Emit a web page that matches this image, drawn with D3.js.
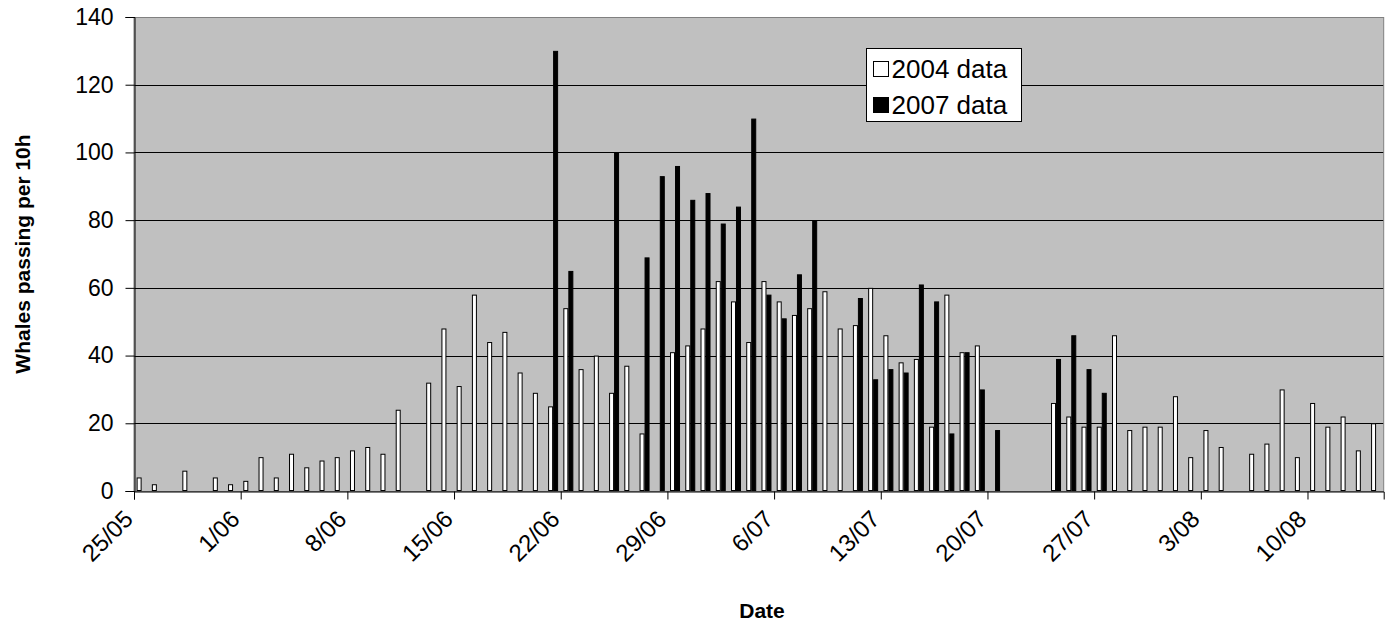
<!DOCTYPE html>
<html>
<head>
<meta charset="utf-8">
<script src="https://cdn.jsdelivr.net/npm/d3@7"></script>
<style>
  body { margin: 0; background: #fff; }
  text { font-family: "Liberation Sans", Arial, sans-serif; }
</style>
</head>
<body>
<div id="chart"></div>
<script>
const dates = [
  "25/05","26/05","27/05","28/05","29/05","30/05","31/05",
  "1/06","2/06","3/06","4/06","5/06","6/06","7/06","8/06","9/06","10/06","11/06","12/06","13/06","14/06",
  "15/06","16/06","17/06","18/06","19/06","20/06","21/06","22/06","23/06","24/06","25/06","26/06","27/06","28/06",
  "29/06","30/06","1/07","2/07","3/07","4/07","5/07","6/07","7/07","8/07","9/07","10/07","11/07","12/07",
  "13/07","14/07","15/07","16/07","17/07","18/07","19/07","20/07","21/07","22/07","23/07","24/07","25/07","26/07",
  "27/07","28/07","29/07","30/07","31/07","1/08","2/08","3/08","4/08","5/08","6/08","7/08","8/08","9/08",
  "10/08","11/08","12/08","13/08","14/08"
];

const data2004 = [
  4, 2, null, 6, null, 4, 2,
  3, 10, 4, 11, 7, 9, 10,
  12, 13, 11, 24, null, 32, 48,
  31, 58, 44, 47, 35, 29, 25,
  54, 36, 40, 29, 37, 17, null,
  41, 43, 48, 62, 56, 44, 62,
  56, 52, 54, 59, 48, 49, 60,
  46, 38, 39, 19, 58, 41, 43,
  null, null, null, null, 26, 22, 19,
  19, 46, 18, 19, 19, 28, 10,
  18, 13, null, 11, 14, 30, 10,
  26, 19, 22, 12, 20
];

const data2007 = [
  null, null, null, null, null, null, null,
  null, null, null, null, null, null, null,
  null, null, null, null, null, null, null,
  null, null, null, null, null, null, 130,
  65, null, null, 100, null, 69, 93,
  96, 86, 88, 79, 84, 110, 58,
  51, 64, 80, null, null, 57, 33,
  36, 35, 61, 56, 17, 41, 30,
  18, null, null, null, 39, 46, 36,
  29, null, null, null, null, null, null,
  null, null, null, null, null, null, null,
  null, null, null, null, null
];

const seriesNames = ["2004 data", "2007 data"];
const seriesFill = ["#ffffff", "#000000"];
const yTicks = [0, 20, 40, 60, 80, 100, 120, 140];
const tickLabels = ["25/05","1/06","8/06","15/06","22/06","29/06","6/07","13/07","20/07","27/07","3/08","10/08"];

const W = 1389, H = 628;
const plotL = 134, plotR = 1383.7, plotT = 17, plotB = 491;

const svg = d3.select("#chart").append("svg")
    .attr("width", W)
    .attr("height", H);

const x = d3.scaleBand().domain(dates).range([plotL, plotR]).padding(0);
const xs = d3.scaleBand().domain(seriesNames).range([0, x.bandwidth()]).paddingInner(0).paddingOuter(0.524);
const xi = d3.scaleLinear().domain([0, dates.length]).range([plotL, plotR]);
const y = d3.scaleLinear().domain([0, 140]).range([plotB, plotT]);

// plot area
svg.append("rect")
    .attr("x", plotL).attr("y", plotT)
    .attr("width", plotR - plotL).attr("height", plotB - plotT)
    .attr("fill", "#c0c0c0");

svg.append("g")
    .selectAll("line")
    .data(yTicks.filter(d => d > 0 && d < 140))
    .enter().append("line")
    .attr("x1", plotL).attr("x2", plotR)
    .attr("y1", d => Math.round(y(d)) + 0.5).attr("y2", d => Math.round(y(d)) + 0.5)
    .attr("stroke", "#000").attr("stroke-width", 1);

svg.append("rect")
    .attr("x", plotL).attr("y", plotT + 0.5)
    .attr("width", plotR - plotL).attr("height", plotB - plotT)
    .attr("fill", "none").attr("stroke", "#808080");

// bars
const rows = dates.map((d, i) => ({date: d, v: [data2004[i], data2007[i]]}));
seriesNames.forEach((s, k) => {
  svg.append("g")
      .selectAll("rect")
      .data(rows.filter(r => r.v[k] != null))
      .enter().append("rect")
      .attr("x", r => x(r.date) + xs(s) + 0.5)
      .attr("y", r => y(r.v[k]) + 0.5)
      .attr("width", xs.bandwidth() - 1)
      .attr("height", r => y(0) - y(r.v[k]) - 1)
      .attr("fill", seriesFill[k])
      .attr("stroke", "#000")
      .attr("stroke-width", 1);
});

// axes
const yAxis = svg.append("g")
    .attr("transform", "translate(" + (plotL + 0.5) + ",0)")
    .call(d3.axisLeft(y).tickValues(yTicks).tickSize(9).tickPadding(12));
yAxis.selectAll("text").style("font-size", "23px").attr("fill", "#000");

const xAxis = svg.append("g")
    .attr("transform", "translate(0," + (plotB + 0.5) + ")")
    .call(d3.axisBottom(xi)
        .tickValues(tickLabels.map(t => dates.indexOf(t)))
        .tickSize(8)
        .tickFormat(i => dates[i]));
xAxis.selectAll("text")
    .style("font-size", "24px")
    .attr("fill", "#000")
    .attr("text-anchor", "end")
    .attr("dy", null)
    .attr("y", 0)
    .attr("transform", "translate(0,29) rotate(-45)");

svg.selectAll(".domain").attr("stroke", "#000");
svg.selectAll(".tick line").attr("stroke", "#000");

// titles
svg.append("text")
    .attr("transform", "translate(30,254) rotate(-90)")
    .attr("text-anchor", "middle")
    .style("font-size", "21px")
    .style("font-weight", "bold")
    .text("Whales passing per 10h");

svg.append("text")
    .attr("x", 762).attr("y", 618)
    .attr("text-anchor", "middle")
    .style("font-size", "21px")
    .style("font-weight", "bold")
    .text("Date");

// legend
const legend = svg.append("g").attr("transform", "translate(866.5,48.5)");
legend.append("rect")
    .attr("width", 155).attr("height", 73)
    .attr("fill", "#fff").attr("stroke", "#000");
seriesNames.forEach((s, k) => {
  const row = legend.append("g").attr("transform", "translate(7," + (13 + k * 36) + ")");
  row.append("rect")
      .attr("width", 15).attr("height", 15)
      .attr("fill", seriesFill[k]).attr("stroke", "#000");
  row.append("text")
      .attr("x", 18).attr("y", 16)
      .style("font-size", "26px")
      .text(s);
});
</script>
</body>
</html>
